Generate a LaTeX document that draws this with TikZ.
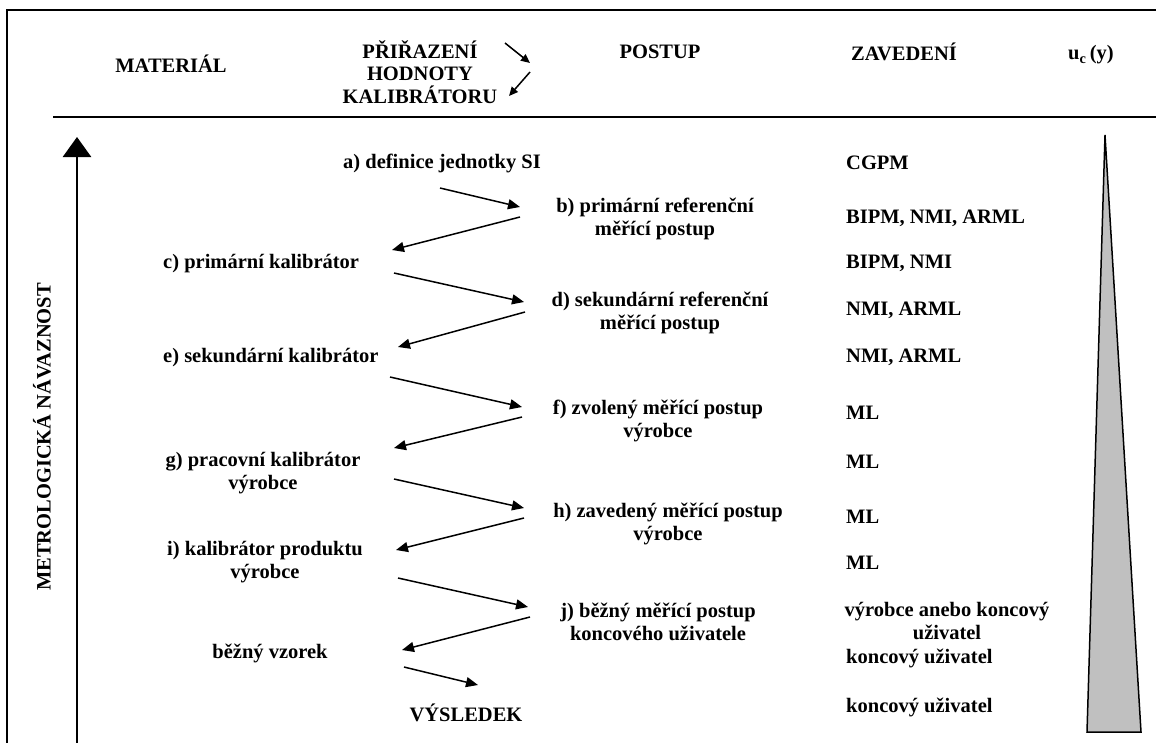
\documentclass[tikz,border=0pt]{standalone}
\usepackage{fontspec}
\setmainfont{Liberation Serif}
\usetikzlibrary{arrows.meta}
\definecolor{trigray}{RGB}{192,192,192}
\begin{document}
\begin{tikzpicture}[x=1pt,y=-1pt,
  txt/.style={font=\fontsize{20.5}{22.5}\selectfont\bfseries, inner sep=0pt, align=center},
  lt/.style={txt, anchor=west},
  arr/.style={line width=1.5pt, -{Triangle[length=12pt,width=10pt]}},
  harr/.style={line width=1.5pt, -{Triangle[length=9pt,width=8pt]}},
  framel/.style={line width=2pt}]
\useasboundingbox (0,0) rectangle (1156,742);
\fill[white] (0,0) rectangle (1156,742);
\begin{scope}
\clip (0,0) rectangle (1156,742);
\draw[framel] (7,760) -- (7,10) -- (1170,10);
\draw[framel] (53,117) -- (1170,117);
\draw[line width=2.7pt, -{Triangle[length=20pt,width=28pt]}] (77,760) -- (77,137);
\end{scope}

% header
\node[txt] (mat) at (171,64) {MATERIÁL};
\node[txt] (pri) at (420,72) {PŘIŘAZENÍ\\HODNOTY\\KALIBRÁTORU};
\node[txt] (post) at (660,52) {POSTUP};
\node[txt] (zav) at (904,52) {ZAVEDENÍ};
\node[txt] (uc) at (1091,55) {u\textsubscript{c}\,(y)};
\coordinate (h1s) at (505,43);
\coordinate (h1e) at (530,63);
\coordinate (h2s) at (530,72);
\coordinate (h2e) at (509,96);
\draw[harr] (h1s) -- (h1e);
\draw[harr] (h2s) -- (h2e);

% side label
\node[txt, rotate=90] (mn) at (42,437) {METROLOGICKÁ NÁVAZNOST};

% chain
\node[txt] (a) at (442,163) {a) definice jednotky SI};
\node[txt] (b) at (655,219) {b) primární referenční\\měřící postup};
\node[lt] (c) at (163,264) {c) primární kalibrátor};
\node[txt] (d) at (660,313) {d) sekundární referenční\\měřící postup};
\node[lt] (e) at (163,358) {e) sekundární kalibrátor};
\node[txt] (f) at (658,421) {f) zvolený měřící postup\\výrobce};
\node[txt] (g) at (263,473) {g) pracovní kalibrátor\\výrobce};
\node[txt] (h) at (668,524) {h) zavedený měřící postup\\výrobce};
\node[txt] (i) at (265,562) {i) kalibrátor produktu\\výrobce};
\node[txt] (j) at (658,622) {j) běžný měřící postup\\koncového uživatele};
\node[txt] (vz) at (270,653) {běžný vzorek};
\node[txt] (vys) at (466,713) {VÝSLEDEK};

\coordinate (ab1) at (440,188); \coordinate (ab2) at (520,207);
\coordinate (bc1) at (520,217); \coordinate (bc2) at (392,250);
\coordinate (cd1) at (394,273); \coordinate (cd2) at (524,302);
\coordinate (de1) at (525,312); \coordinate (de2) at (398,347);
\coordinate (ef1) at (390,377); \coordinate (ef2) at (522,407);
\coordinate (fg1) at (522,417); \coordinate (fg2) at (394,448);
\coordinate (gh1) at (394,479); \coordinate (gh2) at (524,508);
\coordinate (hi1) at (524,518); \coordinate (hi2) at (396,550);
\coordinate (ij1) at (398,578); \coordinate (ij2) at (528,607);
\coordinate (jv1) at (530,617); \coordinate (jv2) at (402,650);
\coordinate (vv1) at (404,667); \coordinate (vv2) at (478,685);
\draw[arr] (ab1) -- (ab2);
\draw[arr] (bc1) -- (bc2);
\draw[arr] (cd1) -- (cd2);
\draw[arr] (de1) -- (de2);
\draw[arr] (ef1) -- (ef2);
\draw[arr] (fg1) -- (fg2);
\draw[arr] (gh1) -- (gh2);
\draw[arr] (hi1) -- (hi2);
\draw[arr] (ij1) -- (ij2);
\draw[arr] (jv1) -- (jv2);
\draw[arr] (vv1) -- (vv2);

% ZAVEDENI column
\node[lt] (z1) at (846,163) {CGPM};
\node[lt] (z2) at (846,218) {BIPM, NMI, ARML};
\node[lt] (z3) at (846,263) {BIPM, NMI};
\node[lt] (z4) at (846,310) {NMI, ARML};
\node[lt] (z5) at (846,357) {NMI, ARML};
\node[lt] (z6) at (846,413) {ML};
\node[lt] (z7) at (846,462) {ML};
\node[lt] (z8) at (846,517) {ML};
\node[lt] (z9) at (846,563) {ML};
\node[txt] (z10) at (947,621) {výrobce anebo koncový\\uživatel};
\node[lt] (z11) at (846,658) {koncový uživatel};
\node[lt] (z12) at (846,707) {koncový uživatel};

% uncertainty wedge
\draw[line width=1.5pt, fill=trigray, line join=miter] (1105,135) -- (1141,732) -- (1087,732) -- cycle;
\end{tikzpicture}
\end{document}
